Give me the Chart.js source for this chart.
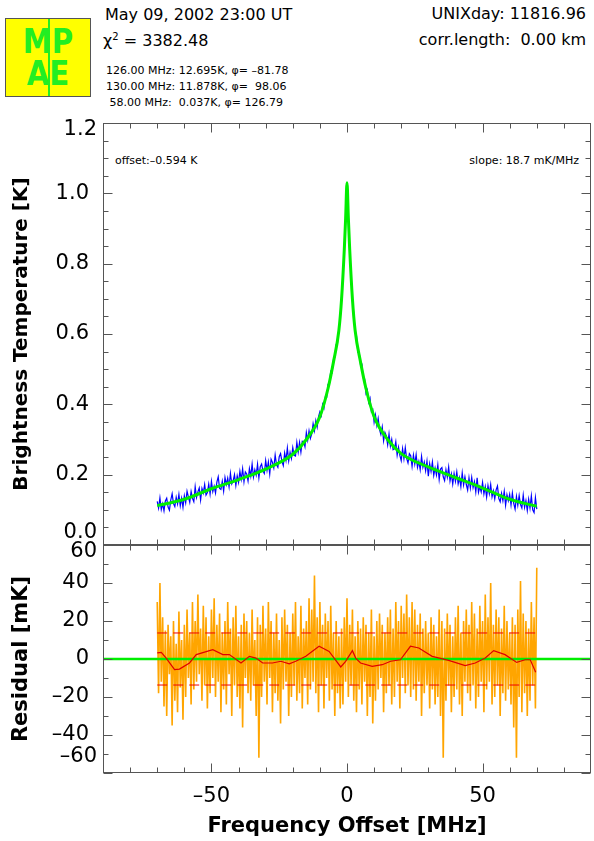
<!DOCTYPE html>
<html>
<head>
<meta charset="utf-8">
<script src="https://cdn.jsdelivr.net/npm/chart.js@4.4.1/dist/chart.umd.min.js"></script>
<style>
  body { margin: 0; background: #fff; width: 594px; height: 841px; overflow: hidden; position: relative; font-family: "DejaVu Sans", sans-serif; }
  canvas { position: absolute; left: 0; top: 0; }
  .t { position: absolute; white-space: pre; color: #000; line-height: 1; }
  .big { font-size: 16px; }
  .small { font-size: 11px; }
  #logo { position: absolute; left: 5px; top: 18px; width: 84px; height: 77px; background: #ffff00; border: 1px solid #555; overflow: hidden; }
  #logo .bar { position: absolute; left: 42px; top: 0; width: 2px; height: 77px; background: #22ee22; }
  #logo .lt { position: absolute; left: 0; width: 84px; text-align: center; font: bold 34px/34px "DejaVu Sans", sans-serif; color: #22ee22; transform: scaleX(0.86); }
</style>
</head>
<body>
<div id="logo"><div class="bar"></div><div class="lt" style="top:5px">MP</div><div class="lt" style="top:37px">AE</div></div>
<div class="t big" style="left:105px;top:7px">May 09, 2002 23:00 UT</div>
<div class="t big" style="left:103px;top:32px">χ<sup style="font-size:10px">2</sup> = 3382.48</div>
<div class="t small" style="left:106px;top:65px">126.00 MHz: 12.695K, φ= –81.78</div>
<div class="t small" style="left:106px;top:81px">130.00 MHz: 11.878K, φ=  98.06</div>
<div class="t small" style="left:106px;top:97px"> 58.00 MHz:  0.037K, φ= 126.79</div>
<div class="t big" style="right:8px;top:6px">UNIXday: 11816.96</div>
<div class="t big" style="right:8px;top:32px">corr.length:  0.00 km</div>
<div class="t small" style="left:115px;top:155px">offset:–0.594 K</div>
<div class="t small" style="right:15px;top:155px">slope: 18.7 mK/MHz</div>

<canvas id="top" width="594" height="841"></canvas>
<canvas id="res" width="594" height="841"></canvas>

<script>
// axes
const freqMin = -90, freqMax = 90;
const xMajorTicks = [-50, 0, 50];
const xMinorTicks = [-80, -70, -60, -40, -30, -20, -10, 10, 20, 30, 40, 60, 70, 80];
const tempMajorTicks = [0, 0.2, 0.4, 0.6, 0.8, 1.0, 1.2];
const tempMinorTicks = [0.05, 0.1, 0.15, 0.25, 0.3, 0.35, 0.45, 0.5, 0.55, 0.65, 0.7, 0.75, 0.85, 0.9, 0.95, 1.05, 1.1, 1.15];
const resMajorTicks = [-60, -40, -20, 0, 20, 40, 60];
const resMinorTicks = [-50, -30, -10, 10, 30, 50];

// measured spectrum, 0.5 MHz steps from -70 to 70 MHz [K]
const specStart = -70, specStep = 0.5;
const specK = [
  .124,.105,.134,.101,.117,.097,.125,.133,.108,.099,.128,.146,.118,.109,.136,.117,.144,.111,.133,.107,
  .140,.120,.153,.137,.121,.152,.133,.123,.166,.135,.151,.162,.128,.161,.148,.172,.142,.149,.173,.145,
  .181,.152,.167,.148,.179,.194,.161,.158,.181,.153,.192,.172,.190,.165,.204,.174,.182,.200,.169,.197,
  .178,.210,.187,.217,.180,.208,.202,.182,.217,.196,.230,.193,.214,.199,.230,.191,.223,.230,.210,.203,
  .240,.212,.236,.202,.244,.235,.219,.256,.228,.221,.251,.260,.238,.226,.262,.241,.276,.239,.263,.246,
  .277,.255,.253,.292,.264,.292,.264,.295,.294,.279,.320,.298,.325,.303,.316,.345,.325,.354,.335,.365,
  .379,.368,.400,.389,.421,.420,.457,.457,.494,.490,.527,.534,.570,.576,.615,.642,.706,.760,.844,.927,
  1.03,
  .933,.835,.771,.693,.658,.604,.595,.548,.549,.512,.514,.475,.472,.431,.441,.406,.417,.379,.385,.349,
  .370,.340,.360,.328,.314,.336,.296,.320,.310,.285,.316,.281,.300,.271,.274,.294,.255,.278,.255,.240,
  .274,.245,.277,.246,.233,.260,.254,.223,.256,.230,.257,.221,.238,.214,.252,.221,.236,.211,.239,.196,
  .231,.209,.236,.198,.219,.199,.228,.186,.216,.220,.194,.183,.214,.193,.222,.182,.202,.173,.203,.181,
  .208,.174,.191,.166,.205,.171,.194,.172,.156,.191,.162,.192,.163,.180,.151,.191,.150,.166,.151,.178,
  .145,.166,.136,.169,.146,.172,.137,.154,.131,.157,.168,.132,.123,.147,.126,.153,.113,.143,.126,.144,
  .114,.148,.118,.102,.138,.113,.141,.115,.105,.142,.107,.126,.098,.130,.105,.140,.100,.092,.135,.102
];

// fitted model
const fitFreq = [-70,-60,-50,-40,-30,-20,-15,-10,-7,-5,-3,-2,-1,-0.5,0,0.5,1,2,3,5,7,10,15,20,30,40,50,60,70];
const fitK = [0.112,0.13,0.16,0.186,0.216,0.258,0.30,0.365,0.445,0.52,0.61,0.70,0.84,0.93,1.03,0.93,0.84,0.70,0.61,0.52,0.445,0.365,0.30,0.26,0.222,0.192,0.162,0.13,0.11];

// residuals, 0.5 MHz steps from -70 to 70 MHz [mK]
const resStart = -70, resStep = 0.5;
const resMK = [
  30,-18,40,-12,22,-25,15,-30,18,-8,
  12,-35,20,-22,8,-28,25,-15,10,-32,
  18,-20,26,-10,14,-24,30,-16,20,-12,
  34,-8,16,-22,28,-14,22,-26,12,-18,
  26,-10,32,-20,18,-12,24,-28,14,-16,
  20,-24,30,-8,16,-30,22,-14,28,-20,
  12,-26,18,-36,24,-10,20,-18,14,-22,
  26,-14,10,-30,22,-52,18,-20,28,-12,
  16,-24,30,-10,20,-28,14,-18,24,-22,
  10,-34,22,-16,26,-12,18,-30,14,-20,
  24,-14,30,-22,12,-18,28,-26,16,-10,
  20,-24,32,-16,26,-12,44,-18,22,-28,
  30,-14,18,-26,24,-10,20,-22,28,-16,
  14,-30,20,-18,12,-26,16,-24,22,-12,
  32,-20,18,-14,26,-22,12,-28,20,-16,
  16,-24,22,-12,18,-30,14,-20,26,-34,
  12,-22,20,-16,24,-10,18,-28,14,-18,
  22,-14,26,-24,16,-20,30,-12,20,-26,
  28,-10,24,-18,34,-14,22,-20,30,-16,
  26,-22,18,-12,24,-30,16,-18,20,-14,
  14,-26,22,-16,18,-24,12,-20,26,-30,
  20,-52,16,-22,24,-14,18,-28,12,-20,
  22,-16,28,-24,14,-30,20,-12,26,-18,
  18,-22,30,-14,24,-26,16,-20,28,-12,
  20,-28,34,-16,22,-12,40,-24,18,-20,
  26,-14,22,-30,16,-18,28,-22,20,-16,
  14,-24,22,-36,18,-52,26,-20,41,-28,
  24,-18,20,-30,16,-22,30,-14,22,-26,
  48
];

// running mean of residuals [mK]
const meanFreq = [-70,-68.5,-66.7,-63.6,-61.8,-58.1,-55.6,-49.5,-45.8,-43.4,-39.1,-36,-33.6,-31.1,-27.5,-24.4,-21.3,-18.9,-15.2,-10.3,-6.6,-2.3,-0.5,2,3.2,5,9.3,13,16.1,19.7,23.4,26.5,31.4,37.5,43.6,47.3,51,54.1,58.3,62.6,65.7,67.6,69.6];
const meanMK = [3.2,3.5,0.5,-5.6,-5.3,-2.1,2.3,4.9,2.3,2.3,-2.1,1.4,0.5,-2.1,-2.1,-1.2,-2.5,-1.2,1.4,6.7,4.0,-4.2,-1.2,4.4,0.5,-2.1,-3.9,-3.0,-1.2,-0.4,6.7,5.8,1.4,-0.7,-3.5,-2.1,0.5,4.4,2.3,-1.8,-0.4,-0.4,-7.0];
const sigmaMK = 13.7;
const dataRange = [-70, 70];

const FONT = '"DejaVu Sans", sans-serif';
const dash = s => String(s).replace('-', '\u2013');

// IDL-style frame with inward ticks on all sides
function framePlugin(xMaj, xMin, yMaj, yMin, edgeLabels) {
  return {
    id: 'frame',
    afterDraw(chart) {
      const ctx = chart.ctx, a = chart.chartArea;
      const xs = chart.scales.x, ys = chart.scales.y;
      ctx.save();
      ctx.strokeStyle = '#555';
      ctx.lineWidth = 1;
      const L = Math.round(a.left) + 0.5, R = Math.round(a.right) - 0.5;
      const T = Math.round(a.top) + 0.5, B = Math.round(a.bottom) - 0.5;
      ctx.strokeRect(L, T, R - L, B - T);
      ctx.beginPath();
      const xt = (v, len) => {
        const p = Math.round(xs.getPixelForValue(v)) + 0.5;
        ctx.moveTo(p, T); ctx.lineTo(p, T + len);
        ctx.moveTo(p, B); ctx.lineTo(p, B - len);
      };
      const yt = (v, len) => {
        const p = Math.round(ys.getPixelForValue(v)) + 0.5;
        ctx.moveTo(L, p); ctx.lineTo(L + len, p);
        ctx.moveTo(R, p); ctx.lineTo(R - len, p);
      };
      xMaj.forEach(v => xt(v, 9));
      xMin.forEach(v => xt(v, 5));
      yMaj.forEach(v => yt(v, 9));
      yMin.forEach(v => yt(v, 5));
      ctx.stroke();
      // edge labels, nudged inward like the original
      ctx.fillStyle = '#000';
      ctx.font = '21px ' + FONT;
      ctx.textAlign = 'right';
      ctx.textBaseline = 'middle';
      edgeLabels.forEach(e => ctx.fillText(e.text, a.left - 6, ys.getPixelForValue(e.value) + e.shift));
      ctx.restore();
    }
  };
}

// order: higher numbers are painted first (underneath)
const line = (data, color, width, order, extra) => Object.assign({
  data, borderColor: color, borderWidth: width, order, pointRadius: 0, showLine: true, fill: false
}, extra || {});

const common = {
  responsive: false,
  animation: false,
  devicePixelRatio: 1,
  plugins: { legend: { display: false }, tooltip: { enabled: false } }
};

// top panel: spectrum and fit
new Chart(document.getElementById('top'), {
  type: 'scatter',
  data: {
    datasets: [
      line(specK.map((v, i) => ({ x: specStart + i * specStep, y: v })), '#0000ff', 1.2, 2),
      line(fitFreq.map((f, i) => ({ x: f, y: fitK[i] })), '#00ee00', 3, 1, { cubicInterpolationMode: 'monotone' })
    ]
  },
  options: Object.assign({}, common, {
    layout: { padding: { top: 123, right: 3, bottom: 296, left: 0 } },
    scales: {
      x: { type: 'linear', display: false, min: freqMin, max: freqMax },
      y: {
        type: 'linear', min: 0, max: 1.2,
        grid: { display: false }, border: { display: false },
        afterFit: s => { s.width = 103; },
        afterBuildTicks: s => { s.ticks = tempMajorTicks.map(v => ({ value: v })); },
        ticks: {
          color: '#000', padding: 6, font: { family: FONT, size: 21 },
          callback: v => (v === 0 || v === 1.2) ? '' : v.toFixed(1)
        },
        title: {
          display: true, text: 'Brightness Temperature [K]', color: '#000',
          font: { family: FONT, size: 20, weight: 'bold' }, padding: { top: 10, bottom: 0 }
        }
      }
    }
  }),
  plugins: [framePlugin(xMajorTicks, xMinorTicks, tempMajorTicks, tempMinorTicks,
    [{ value: 1.2, text: '1.2', shift: 7 }, { value: 0, text: '0.0', shift: -12 }])]
});

// bottom panel: residuals
new Chart(document.getElementById('res'), {
  type: 'scatter',
  data: {
    datasets: [
      line(resMK.map((v, i) => ({ x: resStart + i * resStep, y: v })), '#ffa500', 1.6, 5),
      line(dataRange.map(f => ({ x: f, y: sigmaMK })), '#ee0000', 1, 4, { borderDash: [10, 6] }),
      line(dataRange.map(f => ({ x: f, y: -sigmaMK })), '#ee0000', 1, 4, { borderDash: [10, 6] }),
      line([freqMin, freqMax].map(f => ({ x: f, y: 0 })), '#00ee00', 2.5, 3),
      line(meanFreq.map((f, i) => ({ x: f, y: meanMK[i] })), '#e00000', 1.2, 2)
    ]
  },
  options: Object.assign({}, common, {
    layout: { padding: { top: 545, right: 3, bottom: 0, left: 0 } },
    scales: {
      x: {
        type: 'linear', min: freqMin, max: freqMax,
        grid: { display: false, drawTicks: false }, border: { display: false },
        afterFit: s => { s.height = 68; },
        afterBuildTicks: s => { s.ticks = xMajorTicks.map(v => ({ value: v })); },
        ticks: { color: '#000', padding: 11, maxRotation: 0, font: { family: FONT, size: 21 }, callback: v => dash(v) },
        title: {
          display: true, text: 'Frequency Offset [MHz]', color: '#000',
          font: { family: FONT, size: 21, weight: 'bold' }, padding: { top: 0, bottom: 2 }
        }
      },
      y: {
        type: 'linear', min: -60, max: 60,
        grid: { display: false }, border: { display: false },
        afterFit: s => { s.width = 103; },
        afterBuildTicks: s => { s.ticks = resMajorTicks.map(v => ({ value: v })); },
        ticks: {
          color: '#000', padding: 6, font: { family: FONT, size: 21 },
          callback: v => (v === 60 || v === -60) ? '' : dash(v)
        },
        title: {
          display: true, text: 'Residual [mK]', color: '#000',
          font: { family: FONT, size: 21, weight: 'bold' }, padding: { top: 9, bottom: 0 }
        }
      }
    }
  }),
  plugins: [framePlugin(xMajorTicks, xMinorTicks, resMajorTicks, resMinorTicks,
    [{ value: 60, text: '60', shift: 7 }, { value: -60, text: '\u201360', shift: -16 }])]
});
</script>
</body>
</html>
